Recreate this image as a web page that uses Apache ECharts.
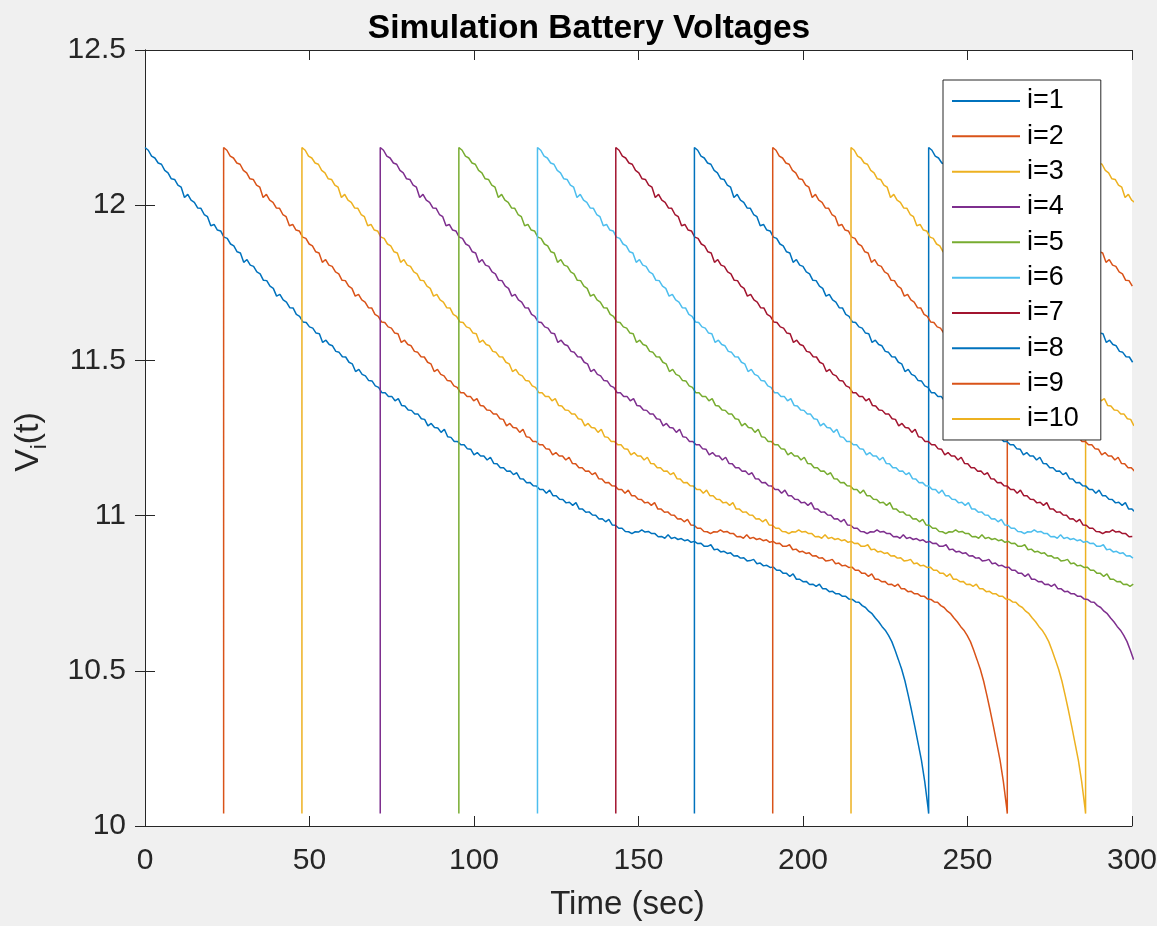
<!DOCTYPE html>
<html>
<head>
<meta charset="utf-8">
<title>Simulation Battery Voltages</title>
<script src="https://cdn.jsdelivr.net/npm/echarts@6/dist/echarts.min.js"></script>
<style>
  html, body { margin: 0; padding: 0; background: #f0f0f0; }
  #chart { width: 1160px; height: 926px; }
</style>
</head>
<body>
<div id="chart"></div>
<script>
// Battery voltage after a recharge, one sample per second (V).
const profile = [
  12.186, 12.177, 12.158, 12.152, 12.136, 12.132, 12.112, 12.104, 12.085, 12.083,
  12.065, 12.058, 12.025, 12.035, 12.016, 12.009, 11.991, 11.990, 11.970, 11.963,
  11.934, 11.938, 11.920, 11.917, 11.897, 11.893, 11.875, 11.869, 11.850, 11.846,
  11.816, 11.825, 11.807, 11.803, 11.785, 11.779, 11.758, 11.757, 11.739, 11.732,
  11.707, 11.713, 11.695, 11.688, 11.670, 11.669, 11.648, 11.642, 11.624, 11.622,
  11.608, 11.604, 11.588, 11.586, 11.558, 11.565, 11.551, 11.547, 11.529, 11.526,
  11.512, 11.511, 11.494, 11.489, 11.464, 11.471, 11.455, 11.450, 11.435, 11.434,
  11.418, 11.413, 11.396, 11.396, 11.384, 11.384, 11.370, 11.377, 11.355, 11.353,
  11.340, 11.339, 11.327, 11.327, 11.312, 11.310, 11.289, 11.297, 11.284, 11.282,
  11.268, 11.278, 11.254, 11.252, 11.239, 11.239, 11.228, 11.228, 11.215, 11.214,
  11.196, 11.203, 11.192, 11.192, 11.179, 11.188, 11.168, 11.167, 11.154, 11.154,
  11.143, 11.144, 11.132, 11.138, 11.119, 11.118, 11.106, 11.107, 11.096, 11.095,
  11.084, 11.084, 11.072, 11.082, 11.064, 11.064, 11.053, 11.052, 11.041, 11.043,
  11.033, 11.042, 11.021, 11.021, 11.011, 11.012, 11.002, 11.001, 10.989, 10.990,
  10.980, 10.988, 10.970, 10.969, 10.959, 10.959, 10.949, 10.948, 10.942, 10.948,
  10.947, 10.954, 10.947, 10.949, 10.942, 10.942, 10.932, 10.933, 10.927, 10.938,
  10.926, 10.930, 10.923, 10.926, 10.919, 10.922, 10.914, 10.917, 10.910, 10.911,
  10.901, 10.901, 10.906, 10.890, 10.892, 10.883, 10.885, 10.878, 10.880, 10.870,
  10.871, 10.863, 10.864, 10.854, 10.855, 10.859, 10.845, 10.847, 10.838, 10.840,
  10.833, 10.834, 10.824, 10.824, 10.814, 10.814, 10.804, 10.812, 10.795, 10.795,
  10.787, 10.788, 10.778, 10.779, 10.772, 10.779, 10.764, 10.764, 10.755, 10.756,
  10.748, 10.748, 10.740, 10.740, 10.731, 10.730, 10.722, 10.721, 10.710, 10.704,
  10.692, 10.684, 10.670, 10.658, 10.643, 10.631, 10.614, 10.594, 10.566, 10.536,
  10.505, 10.467, 10.421, 10.372, 10.320, 10.266, 10.212, 10.144, 10.060
];
const sampleStep = 1;      // seconds between profile samples
const cutoffVoltage = 10.04; // voltage at which a battery is swapped and recharged

// Recharge (cycle start) times of each battery, in seconds.
const cycleStarts = [
  [0, 238.2],
  [23.9, 262.1],
  [47.7, 285.9],
  [71.5],
  [95.4],
  [119.3],
  [143.1],
  [167.0],
  [190.8],
  [214.6]
];
const seriesNames = ['i=1', 'i=2', 'i=3', 'i=4', 'i=5', 'i=6', 'i=7', 'i=8', 'i=9', 'i=10'];
const lineColors = ['#0072BD', '#D95319', '#EDB120', '#7E2F8E', '#77AC30',
                    '#4DBEEE', '#A2142F', '#0072BD', '#D95319', '#EDB120'];
const timeRange = [0, 300];
const timeStep = 50;
const voltRange = [10, 12.5];
const voltStep = 0.5;

const axisColor = '#262626';
const fontFamily = '"Liberation Sans", Arial, Helvetica, sans-serif';

function buildSeriesData(starts) {
  const pts = [];
  starts.forEach((s, c) => {
    const next = c + 1 < starts.length ? starts[c + 1] : Infinity;
    if (s > 0) pts.push([s, cutoffVoltage]);
    for (let k = 0; k < profile.length; k++) {
      const t = +(s + k * sampleStep).toFixed(3);
      if (t >= next) break;
      pts.push([t, profile[k]]);
      if (t > timeRange[1]) break;
    }
  });
  return pts;
}

const series = seriesNames.map((name, i) => ({
  name: name,
  type: 'line',
  data: buildSeriesData(cycleStarts[i]),
  showSymbol: false,
  symbol: 'none',
  sampling: null,
  clip: true,
  lineStyle: { width: 1.5, color: lineColors[i] },
  itemStyle: { color: lineColors[i] },
  emphasis: { disabled: true },
  animation: false
}));

const boxAxis = {
  type: 'value',
  axisLine: { show: true, lineStyle: { color: axisColor, width: 1 } },
  axisTick: { show: true, inside: true, length: 10, lineStyle: { color: axisColor, width: 1 } },
  axisLabel: { show: false },
  splitLine: { show: false }
};

const chart = echarts.init(document.getElementById('chart'), null, { renderer: 'canvas' });
chart.setOption({
  backgroundColor: '#f0f0f0',
  animation: false,
  textStyle: { fontFamily: fontFamily },
  title: {
    text: 'Simulation Battery Voltages',
    left: 584,
    top: 7,
    textAlign: 'center',
    textStyle: { fontFamily: fontFamily, fontSize: 33.5, fontWeight: 'bold', color: '#000' }
  },
  grid: { left: 145, top: 50, width: 987, height: 780, show: true, backgroundColor: '#fff', borderWidth: 0 },
  legend: {
    orient: 'vertical',
    left: 943,
    top: 80,
    padding: [7.5, 22, 7.5, 9],
    itemGap: 8.33,
    itemWidth: 68,
    itemHeight: 2,
    icon: 'rect',
    backgroundColor: '#fff',
    borderColor: axisColor,
    borderWidth: 1,
    borderRadius: 0,
    selectedMode: false,
    textStyle: { fontFamily: fontFamily, fontSize: 27, lineHeight: 27, color: '#000', padding: [0, 0, 0, 2] },
    data: seriesNames
  },
  xAxis: [
    {
      type: 'value',
      min: timeRange[0], max: timeRange[1], interval: timeStep,
      position: 'bottom',
      name: 'Time (sec)',
      nameLocation: 'middle',
      nameGap: 62,
      nameTextStyle: { fontFamily: fontFamily, fontSize: 33, color: axisColor, padding: [0, 22, 0, 0] },
      axisLine: { show: true, lineStyle: { color: axisColor, width: 1 } },
      axisTick: { show: true, inside: true, length: 10, lineStyle: { color: axisColor, width: 1 } },
      axisLabel: { fontFamily: fontFamily, fontSize: 30, color: axisColor, margin: 20 },
      splitLine: { show: false }
    },
    Object.assign({}, boxAxis, { min: timeRange[0], max: timeRange[1], interval: timeStep, position: 'top' })
  ],
  yAxis: [
    {
      type: 'value',
      min: voltRange[0], max: voltRange[1], interval: voltStep,
      position: 'left',
      name: '{v|V}{s|i}{v|(t)}',
      nameLocation: 'middle',
      nameRotate: 90,
      nameGap: 94,
      nameTextStyle: {
        fontFamily: fontFamily, color: axisColor, padding: [0, 8, 0, 0],
        rich: {
          v: { fontFamily: fontFamily, fontSize: 34, lineHeight: 44, color: axisColor },
          s: { fontFamily: fontFamily, fontSize: 22, lineHeight: 20, color: axisColor, verticalAlign: 'bottom' }
        }
      },
      axisLine: { show: true, lineStyle: { color: axisColor, width: 1 } },
      axisTick: { show: true, inside: true, length: 10, lineStyle: { color: axisColor, width: 1 } },
      axisLabel: { fontFamily: fontFamily, fontSize: 30, color: axisColor, margin: 19 },
      splitLine: { show: false }
    },
    Object.assign({}, boxAxis, { min: voltRange[0], max: voltRange[1], interval: voltStep, position: 'right' })
  ],
  graphic: [
    { type: 'rect', right: 0, top: 0, shape: { width: 3, height: 926 }, style: { fill: '#fff' }, silent: true }
  ],
  series: series
});
</script>
</body>
</html>
